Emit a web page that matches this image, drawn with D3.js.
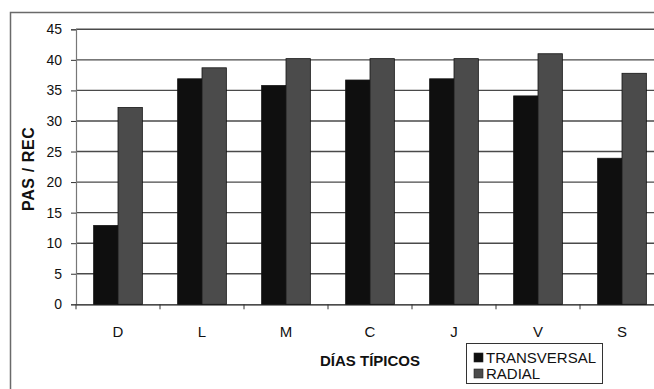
<!DOCTYPE html>
<html>
<head>
<meta charset="utf-8">
<script src="https://cdn.jsdelivr.net/npm/d3@7/dist/d3.min.js"></script>
<style>
  html, body { margin: 0; padding: 0; background: #ffffff; }
  svg { display: block; font-family: "Liberation Sans", Arial, sans-serif; }
</style>
</head>
<body>
<svg id="chart" width="654" height="389"></svg>
<script>
// Passengers per trip by typical day of the week, for the two route types
const categories = ["D", "L", "M", "C", "J", "V", "S"];
const transversal = [12.9, 36.9, 35.8, 36.7, 36.9, 34.1, 23.9];
const radial = [32.2, 38.7, 40.2, 40.2, 40.2, 41.0, 37.8];
const seriesNames = ["TRANSVERSAL", "RADIAL"];
const seriesColors = ["#0f0f0f", "#4b4b4b"];
const yTicks = [0, 5, 10, 15, 20, 25, 30, 35, 40, 45];

const svg = d3.select("#chart");

// Outer frame of the chart area (runs past the right and bottom edges)
svg.append("path")
  .attr("d", "M10.5,400 L10.5,12.5 L700,12.5")
  .attr("fill", "none")
  .attr("stroke", "#6a6a6a")
  .attr("stroke-width", 1.5);

const plot = { left: 76, top: 29.3, width: 588, height: 275 };

const x = d3.scaleBand()
  .domain(categories)
  .range([plot.left, plot.left + plot.width])
  .paddingInner(0.42)
  .paddingOuter(0.21);

const xs = d3.scaleBand()
  .domain(seriesNames)
  .range([0, x.bandwidth()]);

const y = d3.scaleLinear()
  .domain([0, 45])
  .range([plot.top + plot.height, plot.top]);

// Horizontal gridlines
svg.append("g")
  .selectAll("line")
  .data(yTicks.filter(d => d > 0))
  .join("line")
  .attr("x1", plot.left)
  .attr("x2", plot.left + plot.width)
  .attr("y1", d => y(d))
  .attr("y2", d => y(d))
  .attr("stroke", "#4a4a4a")
  .attr("stroke-width", 1.4);

// Bars
const rows = categories.map((c, i) => ({ cat: c, values: [transversal[i], radial[i]] }));
const groups = svg.append("g")
  .selectAll("g")
  .data(rows)
  .join("g")
  .attr("transform", d => `translate(${x(d.cat)},0)`);

groups.selectAll("rect")
  .data(d => d.values.map((v, j) => ({ name: seriesNames[j], v, j })))
  .join("rect")
  .attr("x", d => xs(d.name))
  .attr("width", xs.bandwidth())
  .attr("y", d => y(d.v))
  .attr("height", d => y(0) - y(d.v))
  .attr("fill", d => seriesColors[d.j])
  .attr("stroke", "#141414")
  .attr("stroke-width", 0.8);

// Y axis
const yAxis = svg.append("g")
  .attr("transform", `translate(${plot.left},0)`)
  .call(d3.axisLeft(y).tickValues(yTicks).tickSize(5).tickPadding(9));
yAxis.select(".domain").attr("stroke", "#777").attr("stroke-width", 1.2);
yAxis.selectAll(".tick line").attr("stroke", "#333");
yAxis.selectAll("text")
  .attr("font-size", 14)
  .attr("fill", "#111")
  .attr("font-family", "Liberation Sans, Arial, sans-serif");

// X axis: baseline, boundary ticks between categories, centred labels
const xAxis = svg.append("g")
  .attr("transform", `translate(0,${y(0)})`)
  .call(d3.axisBottom(x).tickSize(0).tickPadding(22));
xAxis.select(".domain").attr("stroke", "#111").attr("stroke-width", 1.2);
xAxis.selectAll("text")
  .attr("font-size", 15)
  .attr("fill", "#111")
  .attr("font-family", "Liberation Sans, Arial, sans-serif");

const bounds = d3.range(categories.length + 1).map(i => x.range()[0] + i * x.step());
xAxis.append("g")
  .selectAll("line")
  .data(bounds)
  .join("line")
  .attr("x1", d => d)
  .attr("x2", d => d)
  .attr("y1", 0)
  .attr("y2", 5)
  .attr("stroke", "#333");

// Axis titles
svg.append("text")
  .attr("x", 370)
  .attr("y", 366)
  .attr("text-anchor", "middle")
  .attr("font-size", 15)
  .attr("font-weight", "bold")
  .attr("fill", "#111")
  .text("DÍAS TÍPICOS");

svg.append("text")
  .attr("transform", `translate(34,${(y(0) + y(45)) / 2 + 2}) rotate(-90)`)
  .attr("text-anchor", "middle")
  .attr("font-size", 16)
  .attr("font-weight", "bold")
  .attr("fill", "#111")
  .attr("letter-spacing", 0.6)
  .text("PAS / REC");

// Legend
const legend = svg.append("g").attr("transform", "translate(466,343)");
legend.append("rect")
  .attr("x", 0.5).attr("y", 0.5)
  .attr("width", 136).attr("height", 40)
  .attr("fill", "#fff")
  .attr("stroke", "#333")
  .attr("stroke-width", 1);
const items = legend.selectAll("g.item")
  .data(seriesNames)
  .join("g")
  .attr("class", "item")
  .attr("transform", (d, i) => `translate(0,${i * 16})`);
items.append("rect")
  .attr("x", 8).attr("y", 10)
  .attr("width", 9).attr("height", 9)
  .attr("fill", (d, i) => seriesColors[i])
  .attr("stroke", "#222")
  .attr("stroke-width", 0.6);
items.append("text")
  .attr("x", 20).attr("y", 20)
  .attr("font-size", 15)
  .attr("fill", "#111")
  .text(d => d);
</script>
</body>
</html>
